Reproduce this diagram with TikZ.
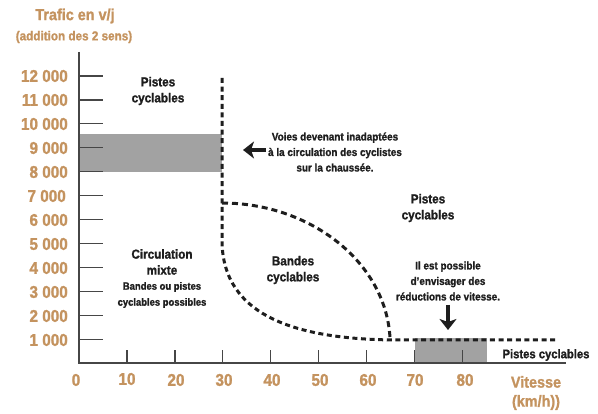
\documentclass[tikz,border=0pt]{standalone}
\usepackage{fontspec}
\setmainfont{Liberation Sans}[FakeStretch=0.9, BoldFeatures={FakeBold=1.3}]
\usetikzlibrary{arrows.meta}
\definecolor{tan}{RGB}{196,147,95}
\definecolor{band}{RGB}{162,162,162}
\definecolor{axis}{RGB}{70,70,70}
\definecolor{ink}{RGB}{30,30,30}
\begin{document}
\begin{tikzpicture}[x=1pt,y=-1pt,font=\bfseries,
  axisline/.style={draw=axis,line width=1.8pt},
  tickline/.style={draw=axis,line width=1.4pt},
  boundary/.style={draw=ink,line width=3pt,dash pattern=on 5pt off 3.6pt},
  ylab/.style={text=tan,font=\fontsize{17}{17}\selectfont\bfseries,anchor=east,inner sep=0pt},
  xlab/.style={text=tan,font=\fontsize{17}{17}\selectfont\bfseries,inner sep=0pt},
  titlelab/.style={text=tan,inner sep=0pt,align=center},
  zone/.style={text=ink,font=\fontsize{13}{16}\selectfont\bfseries,align=center,inner sep=0pt},
  note/.style={text=ink,font=\fontsize{11}{15.5}\selectfont\bfseries,align=center,inner sep=0pt},
  bigarrow/.style={draw=ink,line width=4pt,-{Stealth[length=11pt,width=17pt,inset=3pt]}}]
\useasboundingbox (0,0) rectangle (598,414);
% grey bands
\fill[band] (79,134) rectangle (222,172);
\fill[band] (415,338) rectangle (487,363);
% axes
\coordinate (O) at (79,363);
\coordinate (ytop) at (79,52);
\coordinate (xend) at (566,363);
\draw[axisline] (ytop) -- (O) -- (xend);
\foreach \k in {1,...,12} {
  \draw[tickline] (79,{363.3-23.95*\k}) -- (103,{363.3-23.95*\k});
}
\foreach \k in {1,...,8} {
  \draw[tickline] ({79+47.9*\k},363) -- ({79+47.9*\k},350.5);
}
% y labels
\node[ylab] (y12) at (68,76) {12 000};
\node[ylab] (y11) at (68,100) {11 000};
\node[ylab] (y10) at (68,124) {10 000};
\node[ylab] (y9) at (68,148) {9 000};
\node[ylab] (y8) at (68,172) {8 000};
\node[ylab] (y7) at (66,196) {7 000};
\node[ylab] (y6) at (68,220) {6 000};
\node[ylab] (y5) at (68,244) {5 000};
\node[ylab] (y4) at (68,268) {4 000};
\node[ylab] (y3) at (68,292) {3 000};
\node[ylab] (y2) at (68,316) {2 000};
\node[ylab] (y1) at (68,340) {1 000};
% x labels
\node[xlab] (x0) at (76,380) {0};
\node[xlab] (x10) at (127,379) {10};
\node[xlab] (x20) at (176,380) {20};
\node[xlab] (x30) at (224,380) {30};
\node[xlab] (x40) at (272,380) {40};
\node[xlab] (x50) at (320,380) {50};
\node[xlab] (x60) at (368,380) {60};
\node[xlab] (x70) at (415,380) {70};
\node[xlab] (x80) at (465,380) {80};
% axis titles
\node[titlelab,font=\fontsize{16}{16}\selectfont\bfseries] (ytitle) at (75,16) {Trafic en v/j};
\node[titlelab,font=\fontsize{13}{13}\selectfont\bfseries] (ysub) at (74,37) {(addition des 2 sens)};
\node[titlelab,font=\fontsize{16}{19}\selectfont\bfseries] (xtitle) at (536,393) {Vitesse\\(km/h))};
% boundaries
\coordinate (vtop) at (222,78);
\coordinate (vbranch) at (222,203);
\coordinate (vlow) at (222,240);
\coordinate (hstart) at (400,340);
\coordinate (hend) at (558,340);
\coordinate (lensend) at (390,338);
\draw[boundary] (vtop) -- (vlow) .. controls (222,318) and (300,340) .. (hstart) -- (hend);
\draw[boundary,dash pattern=on 6pt off 4pt] (vbranch) .. controls (310,203) and (386,262) .. (lensend);
% zone texts
\node[zone] (pc1) at (158,91) {Pistes\\cyclables};
\node[zone] (cm) at (162,262) {Circulation\\mixte};
\node[note,font=\fontsize{10.5}{16}\selectfont\bfseries] (bp) at (162,295) {Bandes ou pistes\\cyclables possibles};
\node[zone] (bc) at (293,270) {Bandes\\cyclables};
\node[zone] (pc2) at (428,208) {Pistes\\cyclables};
\node[zone,font=\fontsize{12.5}{13}\selectfont\bfseries] (pc3) at (546,355) {Pistes cyclables};
\node[note] (voies) at (335,152) {Voies devenant inadaptées\\à la circulation des cyclistes\\sur la chaussée.};
\node[note] (reduc) at (448,281) {Il est possible\\d’envisager des\\réductions de vitesse.};
% arrows
\coordinate (la) at (243,150);
\coordinate (da) at (448,330);
\draw[bigarrow] (266,150) -- (la);
\draw[bigarrow] (448,305) -- (da);
\end{tikzpicture}
\end{document}
